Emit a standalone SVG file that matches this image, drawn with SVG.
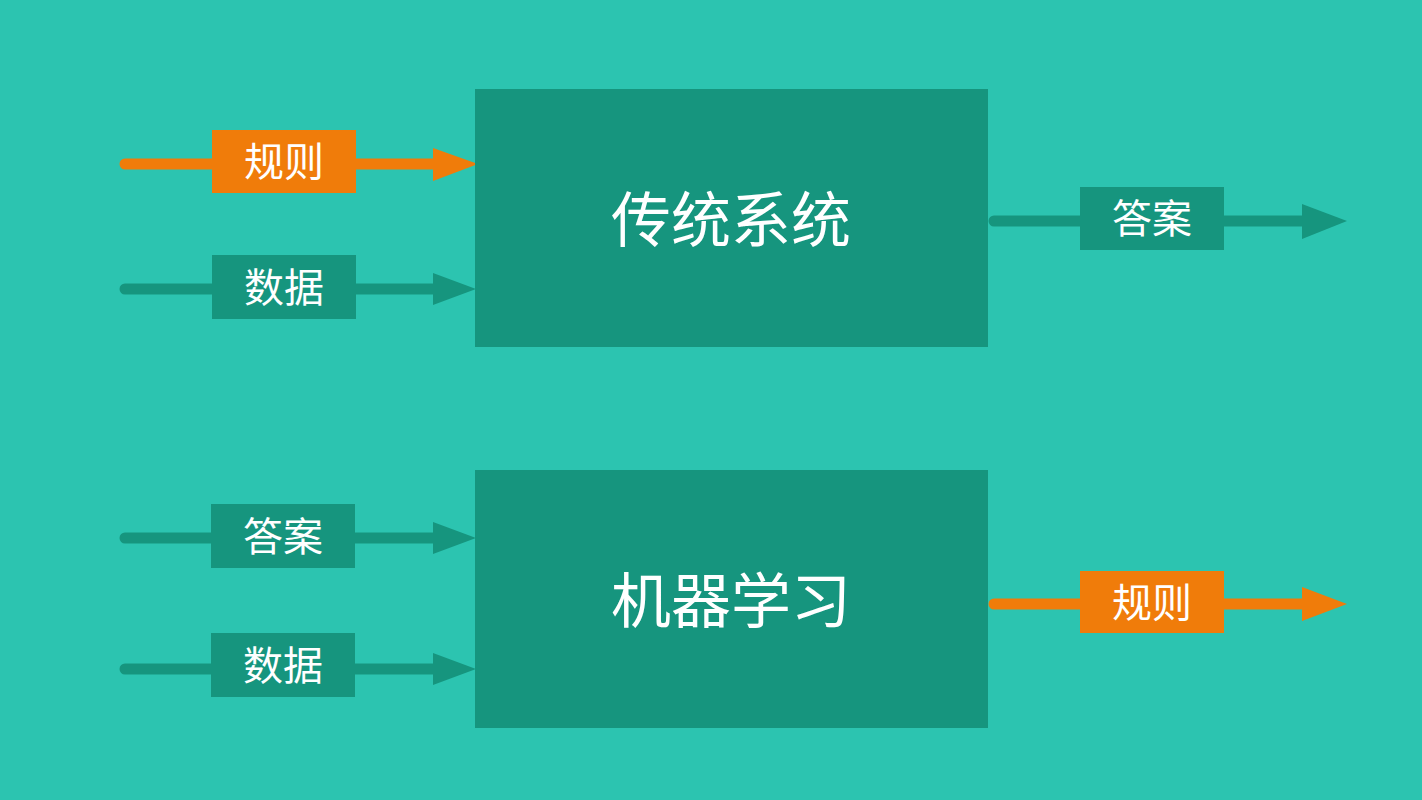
<svg xmlns="http://www.w3.org/2000/svg" width="1422" height="800" viewBox="0 0 1422 800">
<style>
.bg{fill:#2cc4b0}
.box{fill:#16957e}
.org{fill:#f07c0a}
.lt{stroke:#16957e;stroke-width:11;stroke-linecap:round;fill:none}
.lo{stroke:#f07c0a;stroke-width:11;stroke-linecap:round;fill:none}
.ht{fill:#16957e}
.ho{fill:#f07c0a}
.t{font-family:"Noto Sans CJK SC","Noto Sans",sans-serif;fill:#ffffff;text-anchor:middle;dominant-baseline:central}
.tl{font-size:40px}
.tm{font-size:60px}
</style>
<rect class="bg" x="0" y="0" width="1422" height="800"/>
<g id="connectors">
  <line class="lo" x1="125" y1="164" x2="440" y2="164"/>
  <polygon class="ho" points="433,148 478,164 433,181"/>
  <line class="lt" x1="125" y1="289" x2="440" y2="289"/>
  <polygon class="ht" points="433,273 476,289 433,305"/>
  <line class="lt" x1="994" y1="221" x2="1310" y2="221"/>
  <polygon class="ht" points="1302,204 1347,221 1302,239"/>
  <line class="lt" x1="125" y1="538" x2="440" y2="538"/>
  <polygon class="ht" points="433,522 476,538 433,554"/>
  <line class="lt" x1="125" y1="669" x2="440" y2="669"/>
  <polygon class="ht" points="433,653 476,669 433,685"/>
  <line class="lo" x1="994" y1="604" x2="1310" y2="604"/>
  <polygon class="ho" points="1302,587 1347,604 1302,621"/>
</g>
<g id="traditional">
  <rect class="box" x="475" y="89" width="513" height="258"/>
  <text class="t tm" x="731" y="215">传统系统</text>
</g>
<g id="ml">
  <rect class="box" x="475" y="470" width="513" height="258"/>
  <text class="t tm" x="731" y="596">机器学习</text>
</g>
<g id="label-rules-in">
  <rect class="org" x="212" y="130" width="144" height="63"/>
  <text class="t tl" x="284" y="159">规则</text>
</g>
<g id="label-data-in1">
  <rect class="box" x="212" y="255" width="144" height="64"/>
  <text class="t tl" x="284" y="285">数据</text>
</g>
<g id="label-answer-out">
  <rect class="box" x="1080" y="187" width="144" height="63"/>
  <text class="t tl" x="1152" y="216">答案</text>
</g>
<g id="label-answer-in">
  <rect class="box" x="211" y="504" width="144" height="64"/>
  <text class="t tl" x="283" y="534">答案</text>
</g>
<g id="label-data-in2">
  <rect class="box" x="211" y="633" width="144" height="64"/>
  <text class="t tl" x="283" y="663">数据</text>
</g>
<g id="label-rules-out">
  <rect class="org" x="1080" y="571" width="144" height="62"/>
  <text class="t tl" x="1152" y="600">规则</text>
</g>
</svg>
